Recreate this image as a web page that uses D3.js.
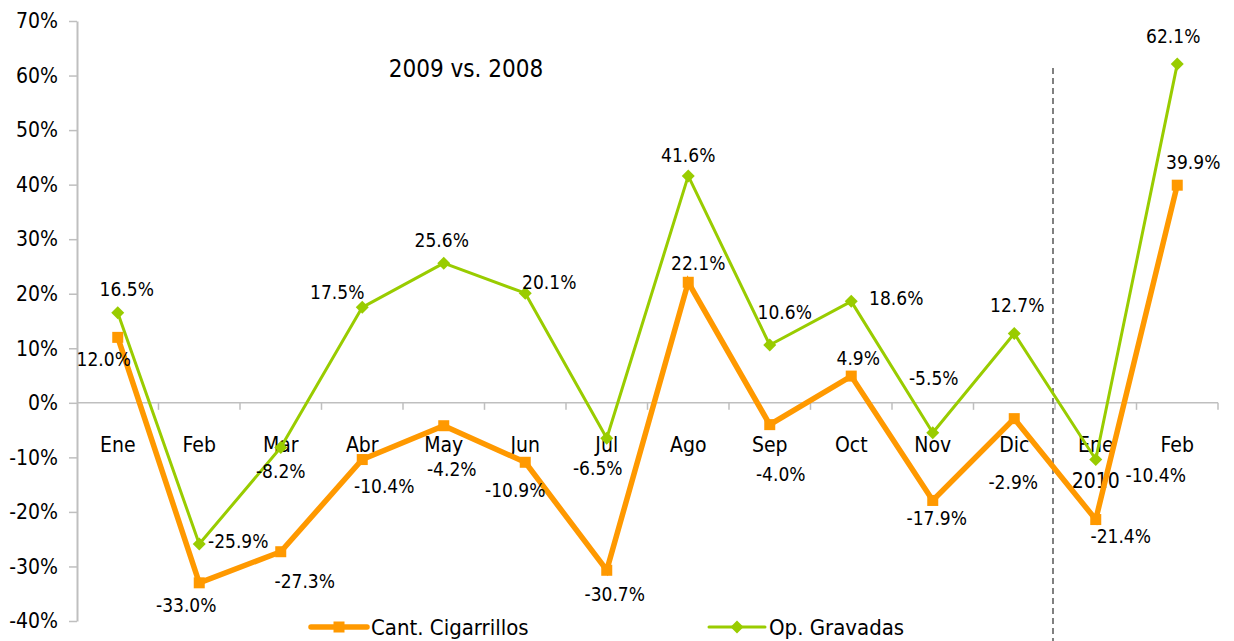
<!DOCTYPE html>
<html>
<head>
<meta charset="utf-8">
<script src="https://cdn.jsdelivr.net/npm/d3@7"></script>
<style>
  body { margin: 0; background: #fff; }
  svg text { font-family: "DejaVu Sans Condensed", "DejaVu Sans", sans-serif; fill: #000; }
</style>
</head>
<body>
<div class="canvas"></div>
<script>
// chart data
const months = ['Ene', 'Feb', 'Mar', 'Abr', 'May', 'Jun', 'Jul', 'Ago', 'Sep', 'Oct', 'Nov', 'Dic', 'Ene', 'Feb'];
const monthSub = ['', '', '', '', '', '', '', '', '', '', '', '', '2010', ''];
const cigarrillos = [12.0, -33.0, -27.3, -10.4, -4.2, -10.9, -30.7, 22.1, -4.0, 4.9, -17.9, -2.9, -21.4, 39.9];
const gravadas = [16.5, -25.9, -8.2, 17.5, 25.6, 20.1, -6.5, 41.6, 10.6, 18.6, -5.5, 12.7, -10.4, 62.1];
const yTicks = [-40, -30, -20, -10, 0, 10, 20, 30, 40, 50, 60, 70];
const seriesNames = ['Cant. Cigarrillos', 'Op. Gravadas'];
const title = '2009 vs. 2008';

// label placement (dx, dy from the point)
const cigOffsets = [[-14,22],[-13,23],[24,30],[22,27],[8,44],[-10,28],[8,24],[10,-19],[11,50],[7,-18],[4,18],[-1,64],[25,17],[16,-23]];
const gravOffsets = [[9,-23],[39,-3],[0,24],[-25,-15],[-2,-23],[24,-11],[-9,30],[0,-21],[15,-33],[45,-3],[1,-54],[3,-28],[60,16],[-4,-28]];

const dims = { width: 1234, height: 641 };
const plot = { left: 77, right: 1218, top: 21, bottom: 621 };
const colours = { orange: '#FF9900', green: '#99CC00', axis: '#BFBFBF' };

const svg = d3.select('.canvas')
    .append('svg')
    .attr('width', dims.width)
    .attr('height', dims.height);

const x = d3.scaleBand()
    .domain(d3.range(months.length))
    .range([plot.left, plot.right]);

const y = d3.scaleLinear()
    .domain([-40, 70])
    .range([plot.bottom, plot.top]);

const cx = i => x(i) + x.bandwidth() / 2;

// y axis
const yAxis = svg.append('g')
    .attr('transform', `translate(${plot.left},0)`)
    .call(d3.axisLeft(y).tickValues(yTicks).tickSize(8).tickSizeOuter(0).tickPadding(11)
        .tickFormat(d => d + '%'));
yAxis.select('.domain').attr('stroke', colours.axis).attr('stroke-width', 2);
yAxis.selectAll('line').attr('stroke', colours.axis).attr('stroke-width', 1.5);
yAxis.selectAll('text')
    .attr('font-size', 21)
    .attr('font-family', null)
    .attr('fill', '#000');

// zero line with category ticks
svg.append('line')
    .attr('x1', plot.left).attr('x2', plot.right)
    .attr('y1', y(0)).attr('y2', y(0))
    .attr('stroke', colours.axis).attr('stroke-width', 1.5);

svg.append('g').selectAll('line')
    .data(d3.range(1, months.length + 1))
    .enter().append('line')
    .attr('x1', i => i < months.length ? x(i) : plot.right)
    .attr('x2', i => i < months.length ? x(i) : plot.right)
    .attr('y1', y(0)).attr('y2', y(0) + 7)
    .attr('stroke', colours.axis).attr('stroke-width', 1.5);

// category labels
const cat = svg.append('g');
cat.selectAll('text.m')
    .data(months)
    .enter().append('text')
    .attr('class', 'm')
    .attr('x', (d, i) => cx(i))
    .attr('y', 445)
    .attr('dy', '0.35em')
    .attr('text-anchor', 'middle')
    .attr('font-size', 21)
    .text(d => d);
cat.selectAll('text.s')
    .data(monthSub)
    .enter().append('text')
    .attr('class', 's')
    .attr('x', (d, i) => cx(i))
    .attr('y', 481)
    .attr('dy', '0.35em')
    .attr('text-anchor', 'middle')
    .attr('font-size', 21)
    .text(d => d);

// dashed separator between years
svg.append('line')
    .attr('x1', x(12) - 2).attr('x2', x(12) - 2)
    .attr('y1', 68).attr('y2', dims.height)
    .attr('stroke', '#808080')
    .attr('stroke-width', 2)
    .attr('stroke-dasharray', '6,4');

// title
svg.append('text')
    .attr('x', 466).attr('y', 69)
    .attr('dy', '0.35em')
    .attr('text-anchor', 'middle')
    .attr('font-size', 24)
    .text(title);

const line = d3.line()
    .x((d, i) => cx(i))
    .y(d => y(d));

// green series
svg.append('path')
    .datum(gravadas)
    .attr('fill', 'none')
    .attr('stroke', colours.green)
    .attr('stroke-width', 3)
    .attr('stroke-linejoin', 'round')
    .attr('d', line);

const diamond = s => `M0,${-s}L${s},0L0,${s}L${-s},0Z`;

svg.append('g').selectAll('path')
    .data(gravadas)
    .enter().append('path')
    .attr('d', diamond(6.5))
    .attr('transform', (d, i) => `translate(${cx(i)},${y(d)})`)
    .attr('fill', colours.green);

// orange series
svg.append('path')
    .datum(cigarrillos)
    .attr('fill', 'none')
    .attr('stroke', colours.orange)
    .attr('stroke-width', 5.5)
    .attr('stroke-linejoin', 'miter')
    .attr('d', line);

svg.append('g').selectAll('rect')
    .data(cigarrillos)
    .enter().append('rect')
    .attr('x', (d, i) => cx(i) - 5.5)
    .attr('y', d => y(d) - 5.5)
    .attr('width', 11)
    .attr('height', 11)
    .attr('fill', colours.orange);

// data labels
const addLabels = (values, offsets) => {
    svg.append('g').selectAll('text')
        .data(values)
        .enter().append('text')
        .attr('x', (d, i) => cx(i) + offsets[i][0])
        .attr('y', (d, i) => y(d) + offsets[i][1])
        .attr('dy', '0.35em')
        .attr('text-anchor', 'middle')
        .attr('font-size', 19)
        .text(d => d.toFixed(1) + '%');
};
addLabels(cigarrillos, cigOffsets);
addLabels(gravadas, gravOffsets);

// legend
const legend = svg.append('g').attr('transform', 'translate(0,627)');
const legendItems = [
    { name: seriesNames[0], x: 311, colour: colours.orange, width: 5.5, shape: 'square' },
    { name: seriesNames[1], x: 709, colour: colours.green, width: 3, shape: 'diamond' }
];
legendItems.forEach(item => {
    legend.append('line')
        .attr('x1', item.x).attr('x2', item.x + 56)
        .attr('y1', 0).attr('y2', 0)
        .attr('stroke', item.colour)
        .attr('stroke-width', item.width)
        .attr('stroke-linecap', 'round');
    if (item.shape === 'square') {
        legend.append('rect')
            .attr('x', item.x + 28 - 5.5).attr('y', -5.5)
            .attr('width', 11).attr('height', 11)
            .attr('fill', item.colour);
    } else {
        legend.append('path')
            .attr('d', diamond(6.5))
            .attr('transform', `translate(${item.x + 28},0)`)
            .attr('fill', item.colour);
    }
    legend.append('text')
        .attr('x', item.x + 60)
        .attr('y', 0)
        .attr('dy', '0.35em')
        .attr('font-size', 22)
        .text(item.name);
});
</script>
</body>
</html>
